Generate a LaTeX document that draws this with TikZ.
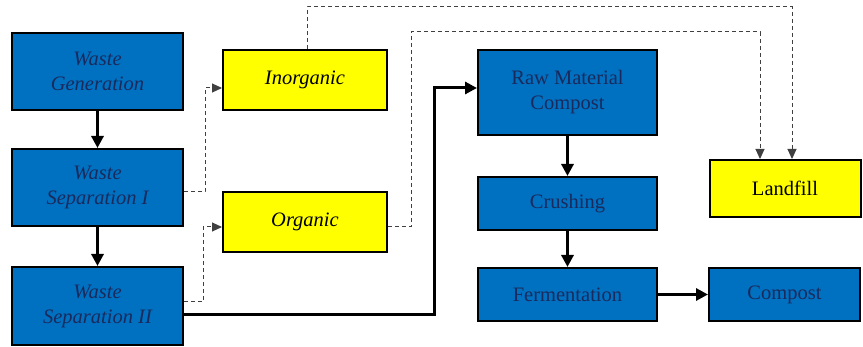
\documentclass[tikz,border=0pt]{standalone}
\usepackage{fontspec}
\setmainfont{Liberation Serif}
\newfontfamily\boxfont{Liberation Serif}
\usetikzlibrary{arrows.meta,calc}
\definecolor{boxblue}{HTML}{0070C0}
\definecolor{navytext}{HTML}{1A2A5C}
\definecolor{boxyellow}{HTML}{FFFF00}
\begin{document}
\begin{tikzpicture}[x=1pt,y=-1pt,
  bluebox/.style={draw=black, line width=2pt, fill=boxblue, text=navytext, align=center, inner sep=0pt, font=\boxfont\fontsize{20.5}{25}\selectfont},
  yelbox/.style={draw=black, line width=2pt, fill=boxyellow, text=black, align=center, inner sep=0pt, font=\boxfont\fontsize{20.5}{25}\selectfont},
  thickarrow/.style={line width=3pt, -{Triangle[length=12pt,width=12pt]}},
  dasharrow/.style={line width=1pt, draw=black!75, dash pattern=on 4pt off 3pt, -{Triangle[length=10pt,width=9pt]}}]
\useasboundingbox (0,0) rectangle (863,347);
\node[bluebox, minimum width=171pt, minimum height=77pt] (gen) at (97.5,71.5) {\itshape Waste\\\itshape Generation};
\node[bluebox, minimum width=171pt, minimum height=77pt] (sep1) at (97.5,187.5) {\itshape Waste\\\itshape Separation I};
\node[bluebox, minimum width=171pt, minimum height=78pt] (sep2) at (97.5,306) {\itshape Waste\\\itshape Separation II};
\node[yelbox, minimum width=164pt, minimum height=60pt] (inorg) at (305,80) {\itshape Inorganic};
\node[yelbox, minimum width=164pt, minimum height=60pt] (org) at (305,222) {\itshape Organic};
\node[bluebox, minimum width=179pt, minimum height=85pt] (raw) at (567.5,92.5) {Raw Material\\Compost};
\node[bluebox, minimum width=179pt, minimum height=53pt] (crush) at (567.5,203.5) {Crushing};
\node[bluebox, minimum width=179pt, minimum height=53pt] (ferm) at (567.5,294.5) {Fermentation};
\node[bluebox, minimum width=151pt, minimum height=53pt] (comp) at (784.5,294.5) {Compost};
\node[yelbox, minimum width=151pt, minimum height=57pt] (land) at (785,188.5) {Landfill};
% solid arrows
\draw[thickarrow] (gen) -- (sep1);
\draw[thickarrow] (sep1) -- (sep2);
\draw[thickarrow] (raw) -- (crush);
\draw[thickarrow] (crush) -- (ferm);
\draw[thickarrow] (ferm) -- (comp);
\draw[thickarrow] ($(sep2.east)+(0,9)$) -| (434,88) -- ($(raw.west)+(0,-4.5)$);
% dashed arrows
\draw[dasharrow] ($(sep1.east)+(0,4.5)$) -| (205,88) -- ($(inorg.west)+(0,8)$);
\draw[dasharrow] ($(sep2.east)+(0,-4)$) -| (203,227) -- ($(org.west)+(0,5)$);
\draw[dasharrow] (inorg.north -| 307,0) -- (307,7) -| (792,0 |- land.north);
\draw[dasharrow] ($(org.east)+(0,5)$) -| (411,32) -| (760,0 |- land.north);
\end{tikzpicture}
\end{document}
